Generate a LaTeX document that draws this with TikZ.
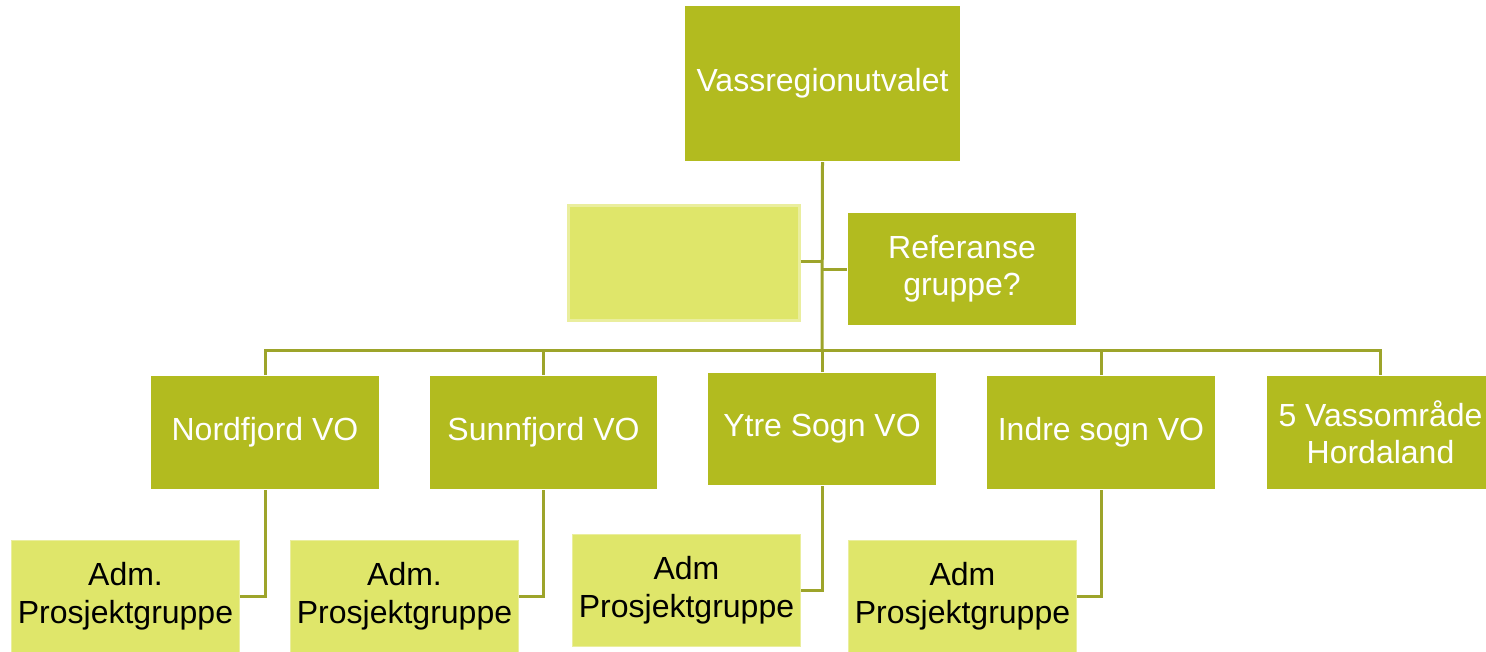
\documentclass[tikz,border=0pt]{standalone}
\usepackage{fontspec}
\setmainfont{Liberation Sans}
\definecolor{dark}{HTML}{B2BB1F}
\definecolor{light}{HTML}{DFE66A}
\definecolor{lightedge}{HTML}{EAEE9E}
\definecolor{wire}{HTML}{9DA42A}
\begin{document}
\begin{tikzpicture}[x=1pt,y=-1pt,
  darkbox/.style={fill=dark,draw=white,line width=1pt,text=white,align=center,font=\fontsize{32}{37}\selectfont,inner sep=0pt},
  lightbox/.style={fill=light,draw=lightedge,line width=1pt,text=black,align=center,font=\fontsize{32}{38}\selectfont,inner sep=0pt},
  wire/.style={draw=wire,line width=3pt}]
\useasboundingbox (0,0) rectangle (1486,651);
\node[darkbox,minimum width=276pt,minimum height=156pt] (top) at (822.5,83.5) {Vassregionutvalet};
\node[lightbox,draw=lightedge,line width=3pt,minimum width=231pt,minimum height=115pt] (blank) at (683.5,262.5) {};
\node[darkbox,minimum width=229pt,minimum height=113pt] (ref) at (962,269) {Referanse\\gruppe?};
\node[darkbox,minimum width=229pt,minimum height=114pt] (n1) at (265,432.5) {Nordfjord VO};
\node[darkbox,minimum width=228pt,minimum height=114pt] (n2) at (543.5,432.5) {Sunnfjord VO};
\node[darkbox,minimum width=229pt,minimum height=113pt] (n3) at (822,429) {Ytre Sogn VO};
\node[darkbox,minimum width=229pt,minimum height=114pt] (n4) at (1101,432.5) {Indre sogn VO};
\node[darkbox,minimum width=229pt,minimum height=114pt] (n5) at (1380.5,432.5) {5 Vassområde\\Hordaland};
\node[lightbox,minimum width=228pt,minimum height=112pt] (a1) at (125.5,596) {Adm.\\Prosjektgruppe};
\node[lightbox,minimum width=228pt,minimum height=112pt] (a2) at (404.5,596) {Adm.\\Prosjektgruppe};
\node[lightbox,minimum width=228pt,minimum height=112pt] (a3) at (686.5,590) {Adm\\Prosjektgruppe};
\node[lightbox,minimum width=228pt,minimum height=112pt] (a4) at (962.5,596) {Adm\\Prosjektgruppe};
\coordinate (bar) at (822,350);
\draw[wire] (top.south) -- (bar);
\draw[wire] (n1.north) |- (n5.north |- bar) -- (n5.north);
\draw[wire] (n2.north) -- (n2.north |- bar);
\draw[wire] (n3.north) -- (bar);
\draw[wire] (n4.north) -- (n4.north |- bar);
\draw[wire] (blank.east |- 0,261) -- (822,261);
\draw[wire] (822,269) -- (ref.west);
\draw[wire] (n1.south) |- (a1.east |- 0,596);
\draw[wire] (n2.south) |- (a2.east |- 0,596);
\draw[wire] (n3.south) |- (a3.east |- 0,590);
\draw[wire] (n4.south) |- (a4.east |- 0,596);
\end{tikzpicture}
\end{document}
